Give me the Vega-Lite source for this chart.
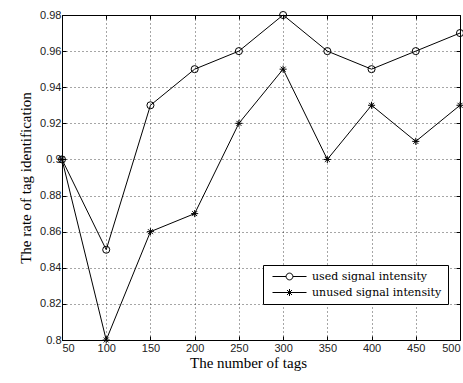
{
  "$schema": "https://vega.github.io/schema/vega-lite/v6.json",
  "width": 398,
  "height": 325,
  "autosize": {"type": "none"},
  "padding": {"left": 62, "top": 15, "right": 3, "bottom": 43},
  "background": "white",
  "config": {
    "view": {"stroke": "black", "strokeWidth": 1},
    "axis": {
      "domainColor": "black",
      "tickColor": "black",
      "tickSize": -4,
      "labelFont": "Liberation Sans",
      "labelFontSize": 11,
      "labelColor": "#222",
      "titleFont": "Liberation Serif",
      "titleFontSize": 15,
      "titleFontWeight": "normal",
      "titleColor": "black",
      "gridColor": "#000",
      "gridDash": [1, 3],
      "gridOpacity": 0.7
    }
  },
  "data": {
    "values": [
      {"tags": 50, "rate": 0.90, "series": "used signal intensity"},
      {"tags": 100, "rate": 0.85, "series": "used signal intensity"},
      {"tags": 150, "rate": 0.93, "series": "used signal intensity"},
      {"tags": 200, "rate": 0.95, "series": "used signal intensity"},
      {"tags": 250, "rate": 0.96, "series": "used signal intensity"},
      {"tags": 300, "rate": 0.98, "series": "used signal intensity"},
      {"tags": 350, "rate": 0.96, "series": "used signal intensity"},
      {"tags": 400, "rate": 0.95, "series": "used signal intensity"},
      {"tags": 450, "rate": 0.96, "series": "used signal intensity"},
      {"tags": 500, "rate": 0.97, "series": "used signal intensity"},
      {"tags": 50, "rate": 0.90, "series": "unused signal intensity"},
      {"tags": 100, "rate": 0.80, "series": "unused signal intensity"},
      {"tags": 150, "rate": 0.86, "series": "unused signal intensity"},
      {"tags": 200, "rate": 0.87, "series": "unused signal intensity"},
      {"tags": 250, "rate": 0.92, "series": "unused signal intensity"},
      {"tags": 300, "rate": 0.95, "series": "unused signal intensity"},
      {"tags": 350, "rate": 0.90, "series": "unused signal intensity"},
      {"tags": 400, "rate": 0.93, "series": "unused signal intensity"},
      {"tags": 450, "rate": 0.91, "series": "unused signal intensity"},
      {"tags": 500, "rate": 0.93, "series": "unused signal intensity"}
    ]
  },
  "layer": [
    {
      "mark": {"type": "line", "color": "black", "strokeWidth": 1},
      "encoding": {
        "x": {
          "field": "tags", "type": "quantitative",
          "scale": {"domain": [50, 500], "nice": false, "zero": false},
          "axis": {
            "title": "The number of tags",
            "values": [50, 100, 150, 200, 250, 300, 350, 400, 450, 500],
            "labelPadding": 6,
            "titlePadding": 2,
            "titleX": 186
          }
        },
        "y": {
          "field": "rate", "type": "quantitative",
          "scale": {"domain": [0.8, 0.98], "nice": false, "zero": false},
          "axis": {
            "title": "The rate of tag identification",
            "values": [0.8, 0.82, 0.84, 0.86, 0.88, 0.9, 0.92, 0.94, 0.96, 0.98],
            "format": ".2~f",
            "labelPadding": 5,
            "titlePadding": 6
          }
        },
        "detail": {"field": "series"}
      }
    },
    {
      "mark": {"type": "point", "filled": false, "stroke": "black", "strokeWidth": 1, "size": 50, "opacity": 1},
      "encoding": {
        "x": {"field": "tags", "type": "quantitative", "axis": null},
        "y": {"field": "rate", "type": "quantitative", "axis": null},
        "shape": {
          "field": "series", "type": "nominal",
          "scale": {
            "domain": ["used signal intensity", "unused signal intensity"],
            "range": ["circle", "M-1,0H1M0,-1V1M-0.7,-0.7L0.7,0.7M-0.7,0.7L0.7,-0.7"]
          },
          "legend": null
        }
      }
    },
    {
      "mark": {"type": "point", "filled": false, "stroke": "black", "strokeWidth": 1, "opacity": 0},
      "encoding": {
        "x": {"field": "tags", "type": "quantitative",
          "axis": {"orient": "top", "labels": false, "title": null, "grid": false, "domain": false,
            "values": [50, 100, 150, 200, 250, 300, 350, 400, 450, 500]}},
        "y": {"field": "rate", "type": "quantitative",
          "axis": {"orient": "right", "labels": false, "title": null, "grid": false, "domain": false,
            "values": [0.8, 0.82, 0.84, 0.86, 0.88, 0.9, 0.92, 0.94, 0.96, 0.98]}},
        "shape": {
          "field": "series", "type": "nominal",
          "scale": {
            "domain": ["used signal intensity", "unused signal intensity"],
            "range": [
              "M-3.4,0H-0.68M0.68,0H3.4M-0.68,0A0.68,0.68 0 1,0 0.68,0A0.68,0.68 0 1,0 -0.68,0",
              "M-3.4,0H3.4M0,-0.7V0.7M-0.5,-0.5L0.5,0.5M-0.5,0.5L0.5,-0.5"
            ]
          },
          "legend": {
            "title": null,
            "orient": "none",
            "legendX": 201,
            "legendY": 250,
            "direction": "vertical",
            "strokeColor": "black",
            "fillColor": "white",
            "padding": 6,
            "symbolSize": 100,
            "symbolOpacity": 1,
            "symbolStrokeColor": "black",
            "symbolFillColor": "transparent",
            "symbolStrokeWidth": 1,
            "symbolOffset": 15,
            "labelOffset": 17,
            "rowPadding": 4,
            "labelFont": "DejaVu Serif",
            "labelFontSize": 11,
            "labelColor": "black"
          }
        }
      }
    }
  ],
  "resolve": {
    "axis": {"x": "independent", "y": "independent"},
    "scale": {"shape": "independent"}
  }
}
